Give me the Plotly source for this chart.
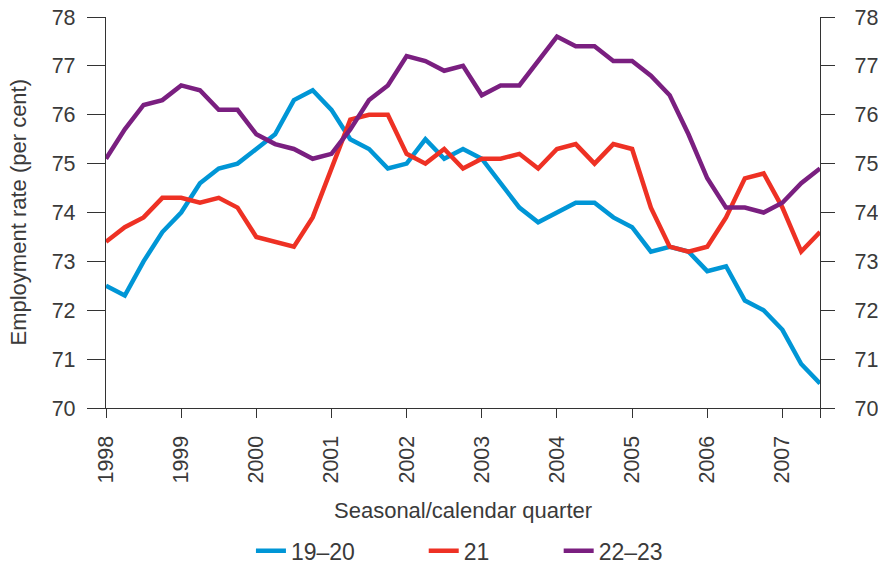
import plotly.graph_objects as go

# Quarterly observations, 1998 Q1 to 2007 Q3
quarters = [1998 + 0.25 * i for i in range(39)]

age_19_20 = [72.5, 72.3, 73.0, 73.6, 74.0, 74.6, 74.9, 75.0, 75.3, 75.6,
             76.3, 76.5, 76.1, 75.5, 75.3, 74.9, 75.0, 75.5, 75.1, 75.3,
             75.1, 74.6, 74.1, 73.8, 74.0, 74.2, 74.2, 73.9, 73.7, 73.2,
             73.3, 73.2, 72.8, 72.9, 72.2, 72.0, 71.6, 70.9, 70.5]

age_21 = [73.4, 73.7, 73.9, 74.3, 74.3, 74.2, 74.3, 74.1, 73.5, 73.4,
          73.3, 73.9, 74.9, 75.9, 76.0, 76.0, 75.2, 75.0, 75.3, 74.9,
          75.1, 75.1, 75.2, 74.9, 75.3, 75.4, 75.0, 75.4, 75.3, 74.1,
          73.3, 73.2, 73.3, 73.9, 74.7, 74.8, 74.1, 73.2, 73.6]

age_22_23 = [75.1, 75.7, 76.2, 76.3, 76.6, 76.5, 76.1, 76.1, 75.6, 75.4,
             75.3, 75.1, 75.2, 75.7, 76.3, 76.6, 77.2, 77.1, 76.9, 77.0,
             76.4, 76.6, 76.6, 77.1, 77.6, 77.4, 77.4, 77.1, 77.1, 76.8,
             76.4, 75.6, 74.7, 74.1, 74.1, 74.0, 74.2, 74.6, 74.9]

year_ticks = [1998, 1999, 2000, 2001, 2002, 2003, 2004, 2005, 2006, 2007, 2007.5]
year_labels = ["1998", "1999", "2000", "2001", "2002", "2003", "2004", "2005", "2006", "2007", ""]
y_ticks = [70, 71, 72, 73, 74, 75, 76, 77, 78]

# name, values, colour, legend id, legend x position (paper)
series = [
    ("19\u201320", age_19_20, "#0096d6", "legend", 0.203),
    ("21", age_21, "#ee3124", "legend2", 0.445),
    ("22\u201323", age_22_23, "#7a1f80", "legend3", 0.634),
]

FONT = "Liberation Sans, Arial, sans-serif"
TEXT = "#3a3a3a"
AXIS = "#333333"

fig = go.Figure()
for name, vals, color, leg, _ in series:
    fig.add_trace(go.Scatter(x=quarters, y=vals, name=name, mode="lines",
                             line=dict(color=color, width=4.5), legend=leg))

# invisible trace so the right-hand axis is drawn
fig.add_trace(go.Scatter(x=quarters, y=age_21, yaxis="y2", mode="lines",
                         line=dict(color="rgba(0,0,0,0)"), showlegend=False,
                         hoverinfo="skip"))

line_common = dict(showgrid=False, zeroline=False, showline=True, linecolor=AXIS,
                   linewidth=1.3, ticks="outside", tickcolor=AXIS, tickwidth=1.3,
                   automargin=False, tickfont=dict(family=FONT, size=21.5, color=TEXT))

legend_common = dict(orientation="h", xanchor="left", yanchor="middle", y=-0.365,
                     bgcolor="rgba(0,0,0,0)", font=dict(family=FONT, size=23, color=TEXT))

layout_legends = {}
for name, vals, color, leg, lx in series:
    layout_legends[leg] = dict(x=lx, **legend_common)

fig.update_layout(
    width=878, height=564,
    margin=dict(l=106, r=58, t=17, b=156, autoexpand=False),
    plot_bgcolor="white", paper_bgcolor="white",
    font=dict(family=FONT, color=TEXT),
    xaxis=dict(range=[1998, 2007.5], tickvals=year_ticks, ticktext=year_labels,
               tickangle=-90, ticklen=9, ticklabelstandoff=9, **line_common),
    yaxis=dict(range=[70, 78], tickvals=y_ticks, ticklen=18, ticklabelstandoff=7,
               **line_common),
    yaxis2=dict(range=[70, 78], tickvals=y_ticks, overlaying="y", side="right",
                ticklen=14, ticklabelstandoff=15, **line_common),
    showlegend=True,
    annotations=[
        dict(text="Seasonal/calendar quarter", xref="paper", yref="paper",
             x=0.5, y=0, yshift=-102, xanchor="center", yanchor="middle",
             showarrow=False, font=dict(family=FONT, size=22, color=TEXT)),
        dict(text="Employment rate (per cent)", xref="paper", yref="paper",
             x=0, y=0.5, xshift=-88, textangle=-90, xanchor="center", yanchor="middle",
             showarrow=False, font=dict(family=FONT, size=22, color=TEXT)),
    ],
    **layout_legends,
)

fig.write_html("out.html")
